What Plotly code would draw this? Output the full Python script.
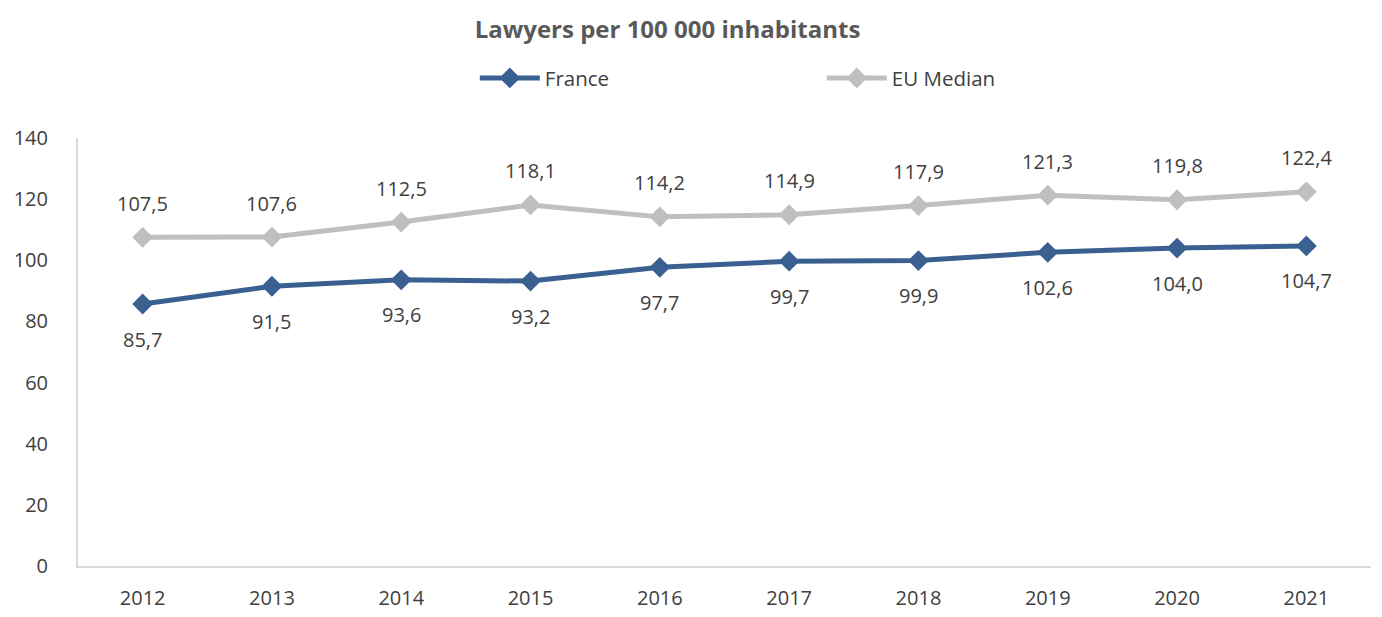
import plotly.graph_objects as go

years = ["2012", "2013", "2014", "2015", "2016", "2017", "2018", "2019", "2020", "2021"]
france = [85.7, 91.5, 93.6, 93.2, 97.7, 99.7, 99.9, 102.6, 104.0, 104.7]
eu_median = [107.5, 107.6, 112.5, 118.1, 114.2, 114.9, 117.9, 121.3, 119.8, 122.4]
y_ticks = [0, 20, 40, 60, 80, 100, 120, 140]

FONT = "Open Sans"
TXT = "#404040"
C_FR = "#3a6092"
C_EU = "#bfbfbf"

def fmt(v):
    return f"{v:.1f}".replace(".", ",")

fig = go.Figure()
fig.add_trace(go.Scatter(x=years, y=france, name="France", mode="lines+markers",
                         line=dict(color=C_FR, width=5),
                         marker=dict(symbol="diamond", size=16, color=C_FR)))
fig.add_trace(go.Scatter(x=years, y=eu_median, name="EU Median", mode="lines+markers",
                         line=dict(color=C_EU, width=5),
                         marker=dict(symbol="diamond", size=16, color=C_EU)))

# category axis: annotations positioned by category index
annotations = []
for i, v in enumerate(france):
    annotations.append(dict(x=i, y=v, xref="x", yref="y", text=fmt(v), showarrow=False,
                            yshift=-35, font=dict(family=FONT, size=20, color=TXT)))
for i, v in enumerate(eu_median):
    annotations.append(dict(x=i, y=v, xref="x", yref="y", text=fmt(v), showarrow=False,
                            yshift=34, font=dict(family=FONT, size=20, color=TXT)))

fig.update_layout(
    width=1382, height=617,
    paper_bgcolor="white", plot_bgcolor="white",
    margin=dict(l=78, r=11, t=138, b=51, autoexpand=False),
    title=dict(text="<b>Lawyers per 100 000 inhabitants</b>", x=0.483, xanchor="center",
               y=1 - 21 / 617, yanchor="top", font=dict(family=FONT, size=24, color="#595959")),
    legend=dict(orientation="h", x=0.3069, xanchor="left", y=1.140, yanchor="middle",
                entrywidth=272, entrywidthmode="pixels",
                font=dict(family=FONT, size=20.5, color=TXT), itemwidth=60),
    annotations=annotations,
    xaxis=dict(type="category", range=[-0.5, len(years) - 0.5], showgrid=False, showline=True,
               linecolor="#d9d9d9", linewidth=2, ticks="", ticklabelstandoff=13, automargin=False,
               tickfont=dict(family=FONT, size=20, color=TXT), zeroline=False),
    yaxis=dict(range=[0, 140], tickvals=y_ticks, showgrid=False, showline=True, automargin=False,
               linecolor="#d9d9d9", linewidth=2, ticks="", ticklabelstandoff=24,
               tickfont=dict(family=FONT, size=20, color=TXT), zeroline=False),
)

fig.write_html("out.html", config={"displayModeBar": False},
               post_script="document.body.style.margin='0';")
